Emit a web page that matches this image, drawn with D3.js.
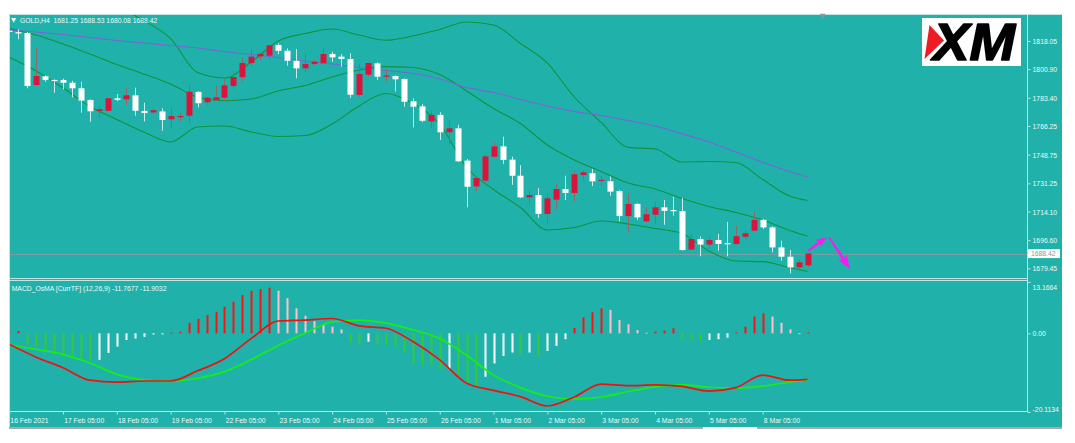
<!DOCTYPE html>
<html>
<head>
<meta charset="utf-8">
<script src="https://cdn.jsdelivr.net/npm/d3@7"></script>
<style>
  body { margin: 0; background: #fff; }
  svg { display: block; }
  text { font-family: "Liberation Sans", Arial, sans-serif; }
</style>
</head>
<body>
<div id="chart"></div>
<script>
// GOLD H4 candles, 16 Feb 2021 05:00 .. 9 Mar 2021
const opens = [1824.3, 1823.4, 1823.0, 1791.2, 1796.5, 1794.3, 1794.3, 1792.6, 1789.2, 1782.1,
  1775.4, 1775.5, 1783.1, 1782.5, 1784.9, 1775.4, 1774.5, 1775.1, 1770.3, 1771.9,
  1772.5, 1787.0, 1780.7, 1782.1, 1783.5, 1790.6, 1796.0, 1804.6, 1808.7, 1809.1,
  1815.6, 1812.1, 1806.0, 1801.4, 1804.0, 1804.5, 1810.1, 1808.5, 1807.1, 1785.1,
  1797.5, 1804.4, 1796.5, 1796.7, 1794.9, 1781.3, 1778.2, 1769.0, 1773.0, 1762.4,
  1764.8, 1745.1, 1729.4, 1732.9, 1747.5, 1753.8, 1745.7, 1735.9, 1722.7, 1724.1,
  1712.6, 1721.3, 1727.8, 1725.4, 1736.3, 1737.4, 1733.1, 1732.5, 1726.6, 1711.3,
  1718.7, 1708.1, 1712.1, 1716.6, 1715.0, 1714.4, 1690.9, 1697.3, 1693.9, 1696.7,
  1694.8, 1694.3, 1698.7, 1702.4, 1709.0, 1704.4, 1692.2, 1686.5, 1680.0, 1681.25];
const highs = [1825.5, 1825.2, 1823.5, 1814.2, 1797.0, 1794.6, 1795.1, 1793.8, 1793.2, 1782.5,
  1778.4, 1783.4, 1785.7, 1789.8, 1789.6, 1780.4, 1776.7, 1777.0, 1777.4, 1774.3,
  1791.8, 1787.5, 1784.0, 1791.2, 1794.9, 1799.6, 1808.1, 1813.2, 1810.7, 1815.7,
  1816.6, 1813.6, 1813.2, 1810.5, 1806.5, 1814.2, 1811.5, 1810.1, 1810.5, 1804.0,
  1805.0, 1805.0, 1801.0, 1797.0, 1795.2, 1783.1, 1779.6, 1775.6, 1774.6, 1769.9,
  1767.0, 1746.1, 1735.0, 1749.2, 1756.3, 1759.7, 1747.5, 1742.4, 1726.8, 1728.4,
  1724.8, 1730.9, 1735.9, 1739.0, 1739.4, 1740.0, 1735.7, 1735.5, 1727.0, 1725.2,
  1719.1, 1716.6, 1719.7, 1721.1, 1723.1, 1722.3, 1700.4, 1698.9, 1699.1, 1700.4,
  1707.7, 1705.2, 1702.4, 1714.2, 1709.5, 1704.9, 1696.3, 1690.6, 1684.7, 1688.53];
const lows = [1822.0, 1819.1, 1789.2, 1790.6, 1793.2, 1786.5, 1788.6, 1783.7, 1774.3, 1768.8,
  1771.5, 1775.2, 1781.4, 1779.0, 1772.5, 1769.0, 1774.0, 1763.4, 1765.2, 1768.8,
  1767.9, 1777.6, 1779.0, 1781.5, 1781.0, 1788.8, 1793.2, 1802.4, 1806.0, 1806.3,
  1810.1, 1803.0, 1795.3, 1799.0, 1803.3, 1804.0, 1805.4, 1802.4, 1783.3, 1783.7,
  1796.3, 1794.3, 1793.2, 1787.3, 1778.0, 1765.4, 1768.5, 1765.0, 1757.7, 1754.9,
  1744.5, 1716.6, 1726.4, 1731.0, 1747.0, 1743.0, 1730.4, 1722.3, 1719.0, 1710.1,
  1706.9, 1715.2, 1721.0, 1720.3, 1732.9, 1729.6, 1729.8, 1723.7, 1708.1, 1701.4,
  1709.0, 1707.5, 1706.5, 1706.0, 1711.5, 1690.2, 1690.7, 1686.8, 1691.2, 1690.2,
  1686.8, 1693.9, 1696.9, 1701.6, 1703.4, 1689.2, 1684.1, 1676.4, 1679.5, 1680.08];
const closes = [1823.8, 1822.7, 1790.6, 1796.7, 1794.3, 1794.0, 1792.6, 1789.2, 1781.7, 1775.2,
  1776.4, 1783.1, 1782.2, 1784.9, 1775.5, 1774.1, 1775.9, 1769.9, 1772.3, 1772.3,
  1787.1, 1780.1, 1783.5, 1783.7, 1791.0, 1796.1, 1804.6, 1808.5, 1810.2, 1815.4,
  1812.1, 1806.0, 1801.4, 1804.0, 1805.4, 1810.1, 1808.1, 1807.1, 1785.3, 1797.9,
  1804.6, 1796.3, 1797.0, 1794.7, 1781.0, 1778.0, 1769.4, 1773.0, 1762.4, 1764.8,
  1744.7, 1729.2, 1734.5, 1747.7, 1753.8, 1745.5, 1735.9, 1722.7, 1724.1, 1712.6,
  1722.1, 1727.8, 1725.4, 1736.8, 1738.0, 1732.5, 1733.4, 1726.2, 1711.3, 1718.7,
  1710.5, 1712.4, 1716.6, 1714.5, 1714.6, 1690.6, 1697.3, 1693.9, 1696.7, 1694.3,
  1694.3, 1699.0, 1700.8, 1709.0, 1704.4, 1692.2, 1686.5, 1680.0, 1683.1, 1688.42];

// indicator lines, read every 3rd bar
const lineIdx = [0, 3, 6, 9, 12, 15, 18, 21, 24, 27, 30, 33, 36, 39, 42, 45, 48, 51, 54, 57,
  60, 63, 66, 69, 72, 75, 78, 81, 84, 87, 89];
const bbUpper = [1845.5, 1844.9, 1843.7, 1841.2, 1838.3, 1830.5, 1819.5, 1798.8, 1795.5, 1805.2,
  1818.1, 1822.6, 1825.4, 1821.7, 1818.5, 1821.1, 1825.1, 1829.6, 1827.8, 1816.5,
  1804.6, 1783.9, 1768.4, 1753.2, 1752.2, 1744.3, 1744.6, 1744.0, 1733.6, 1723.5, 1720.8];
const bbMiddle = [1825.7, 1821.7, 1816.2, 1810.1, 1803.7, 1797.9, 1791.8, 1783.9, 1781.6, 1782.7,
  1787.6, 1790.9, 1796.1, 1800.4, 1802.4, 1801.9, 1797.6, 1787.6, 1776.9, 1767.7,
  1754.6, 1745.5, 1738.5, 1731.5, 1727.8, 1722.0, 1717.1, 1713.5, 1708.9, 1702.5, 1699.1];
const bbLower = [1808.1, 1799.8, 1789.4, 1778.1, 1770.2, 1762.6, 1756.5, 1765.6, 1766.2, 1762.6,
  1759.8, 1760.4, 1767.4, 1778.4, 1786.0, 1779.9, 1767.4, 1740.9, 1727.5, 1716.5,
  1702.8, 1704.3, 1708.3, 1706.5, 1703.7, 1700.7, 1690.0, 1683.9, 1683.5, 1679.9, 1677.5];
const maSlow = [1824.8, 1823.5, 1822.0, 1820.2, 1818.4, 1816.8, 1815.3, 1813.8, 1811.6, 1809.8,
  1808.0, 1805.9, 1804.0, 1801.9, 1800.1, 1798.2, 1794.9, 1789.7, 1786.6, 1782.4,
  1778.4, 1775.1, 1772.6, 1769.6, 1766.2, 1761.6, 1756.5, 1750.4, 1744.0, 1738.5, 1735.1];

// MACD_OsMA pane
const macdLine = [-2.8, -6.1, -8.8, -12.0, -12.5, -12.2, -12.2, -9.6, -6.5, -1.3,
  3.15, 3.4, 3.8, 1.9, 1.3, -2.1, -6.8, -12.8, -14.6, -16.2,
  -18.6, -16.3, -13.0, -13.4, -13.2, -13.6, -14.8, -13.9, -10.7, -12.0, -11.77];
const signalLine = [-3.0, -4.1, -5.4, -7.6, -10.5, -11.9, -12.3, -11.5, -9.8, -6.7,
  -3.1, 0.1, 2.9, 3.4, 2.6, 0.9, -1.3, -5.6, -10.7, -13.9,
  -16.1, -16.8, -16.3, -14.9, -13.7, -13.2, -13.8, -14.0, -13.5, -12.5, -11.9];
const osma = [0.3, 0.6, -2.9, -3.4, -4.4, -5.5, -6.0, -6.4, -6.6, -6.9,
  -6.8, -5.0, -3.4, -1.7, -1.3, -0.9, -0.3, -0.15, 0.2, 0.4,
  2.7, 3.7, 4.7, 5.5, 6.8, 8.1, 9.8, 10.9, 11.3, 11.7,
  10.9, 9.0, 6.4, 4.5, 3.15, 2.1, 1.7, 1.0, -2.4, -2.85,
  -2.15, -2.85, -3.0, -3.4, -4.9, -7.7, -8.1, -8.3, -9.2, -9.05,
  -10.5, -12.8, -13.7, -11.1, -7.7, -5.8, -4.9, -5.4, -4.9, -5.7,
  -4.5, -3.2, -1.5, 1.4, 4.1, 5.4, 6.4, 6.0, 3.4, 2.3,
  0.85, 0.17, 0.42, 0.68, 1.3, -1.3, -1.7, -2.1, -1.7, -1.5,
  -1.1, 0.25, 1.7, 4.3, 5.1, 4.3, 2.7, 1.0, 0.05, 0.25];
// r = up above zero, p = down above zero, g = down below zero, w = up below zero
const osmaKind = ["rr", "gggggggg", "wwwwwwww", "rrrrrrrrrrrr", "pppppppp", "gg", "w", "gggggggg",
  "w", "ggg", "wwww", "g", "w", "g", "www", "rrrr", "ppppp", "rrr", "ggg", "www", "rrrr",
  "pppp", "r"].join("").split("");

const priceTicks = [1818.05, 1800.90, 1783.40, 1766.25, 1748.75, 1731.25, 1714.10, 1696.60, 1679.45];
const macdTicks = [13.1664, 0, -20.1134];
const dateIdx = [0, 6, 12, 18, 24, 30, 36, 42, 48, 54, 60, 66, 72, 78, 84];
const dateLabels = ["16 Feb 2021", "17 Feb 05:00", "18 Feb 05:00", "19 Feb 05:00", "22 Feb 05:00",
  "23 Feb 05:00", "24 Feb 05:00", "25 Feb 05:00", "26 Feb 05:00", "1 Mar 05:00", "2 Mar 05:00",
  "3 Mar 05:00", "4 Mar 05:00", "5 Mar 05:00", "8 Mar 05:00"];

// hand-drawn forecast arrows (bar, price)
const arrowUp = [[89.05, 1690.0], [91.15, 1698.4]];
const arrowDown = [[91.4, 1698.4], [93.75, 1679.0]];

const bg = "#20b2aa";
const fg = "#eef8f7";
const frameColor = "#bfe6e3";
const plotRight = 1027;
const squeeze = "scale(0.85,1)"; // terminal font is narrower than Liberation Sans

const svg = d3.select("#chart").append("svg")
  .attr("width", 1075)
  .attr("height", 443);

// background + frame
svg.append("rect").attr("x", 9).attr("y", 14).attr("width", 1053).attr("height", 413).attr("fill", bg);
svg.append("path")
  .attr("d", `M9.5,427 V14.5 H1062 M${plotRight + 0.5},14.5 V412 M9.5,411.5 H${plotRight + 0.5}` +
    ` M9.5,278.5 H${plotRight} M9.5,280.5 H${plotRight}`)
  .attr("stroke", frameColor)
  .attr("fill", "none");
svg.append("rect").attr("x", 9).attr("y", 427).attr("width", 1053).attr("height", 2).attr("fill", "#a9a9a9");
svg.append("rect").attr("x", 703).attr("y", 427).attr("width", 54).attr("height", 2).attr("fill", "#fff");

const defs = svg.append("defs");
defs.append("clipPath").attr("id", "clipMain")
  .append("rect").attr("x", 10).attr("y", 15).attr("width", plotRight - 10).attr("height", 263);
defs.append("clipPath").attr("id", "clipMacd")
  .append("rect").attr("x", 10).attr("y", 281).attr("width", plotRight - 10).attr("height", 130);

const x = d3.scaleLinear().domain([0, 89]).range([9.2, 807.5]);
const yPrice = d3.scaleLinear().domain([1679.45, 1818.05]).range([268.3, 41]);
const yMacd = d3.scaleLinear().domain([-20.1134, 13.1664]).range([411.9, 281.9]);

const main = svg.append("g").attr("clip-path", "url(#clipMain)");
const macd = svg.append("g").attr("clip-path", "url(#clipMacd)");

// price line at last close
const last = closes[closes.length - 1];
main.append("line")
  .attr("x1", 9).attr("x2", plotRight)
  .attr("y1", Math.round(yPrice(last)) + 0.5).attr("y2", Math.round(yPrice(last)) + 0.5)
  .attr("stroke", "#7a9ca2");

// bollinger bands + slow MA
const priceLine = d3.line()
  .x(function (d) { return x(d[0]); })
  .y(function (d) { return yPrice(d[1]); })
  .curve(d3.curveMonotoneX);
[bbUpper, bbMiddle, bbLower].forEach(function (band) {
  main.append("path")
    .attr("d", priceLine(lineIdx.map(function (b, k) { return [b, band[k]]; })))
    .attr("fill", "none")
    .attr("stroke", "#10933c")
    .attr("stroke-width", 1.1);
});
main.append("path")
  .attr("d", priceLine(lineIdx.map(function (b, k) { return [b, maSlow[k]]; })))
  .attr("fill", "none")
  .attr("stroke", "#7b62d8")
  .attr("stroke-width", 1.1);

// candles
const candles = opens.map(function (o, i) {
  return { i: i, o: o, h: highs[i], l: lows[i], c: closes[i] };
});
const candle = main.selectAll(".candle").data(candles).enter().append("g").attr("class", "candle");
candle.append("rect")
  .attr("x", function (d) { return Math.round(x(d.i)); })
  .attr("width", 1)
  .attr("y", function (d) { return yPrice(d.h); })
  .attr("height", function (d) { return Math.max(1, yPrice(d.l) - yPrice(d.h)); })
  .attr("fill", function (d) { return d.c >= d.o ? "#8c6b6d" : "#c9ecea"; });
candle.append("rect")
  .attr("x", function (d) { return Math.round(x(d.i)) - 2.5; })
  .attr("width", 6)
  .attr("y", function (d) { return yPrice(Math.max(d.o, d.c)); })
  .attr("height", function (d) { return Math.max(1.2, Math.abs(yPrice(d.o) - yPrice(d.c))); })
  .attr("fill", function (d) { return d.c >= d.o ? "#dc143c" : "#ffffff"; });

// forecast arrows
function drawArrow(p0, p1, headL, headW) {
  const x0 = x(p0[0]), y0 = yPrice(p0[1]), x1 = x(p1[0]), y1 = yPrice(p1[1]);
  const len = Math.hypot(x1 - x0, y1 - y0);
  const ang = Math.atan2(y1 - y0, x1 - x0) * 180 / Math.PI;
  const pts = [[0, -0.8], [len - headL, -1.6], [len - headL - 2, -headW], [len, 0],
    [len - headL - 2, headW], [len - headL, 1.6], [0, 0.8]];
  main.append("polygon")
    .attr("points", pts.map(function (p) { return p.join(","); }).join(" "))
    .attr("transform", `translate(${x0},${y0}) rotate(${ang})`)
    .attr("fill", "#f020f0");
}
drawArrow(arrowUp[0], arrowUp[1], 9, 4.5);
drawArrow(arrowDown[0], arrowDown[1], 12, 5);

// MACD histogram
const kindColor = { r: "#ff1010", p: "#ffc0cb", g: "#34c934", w: "#ffffff" };
macd.selectAll(".hist").data(osma).enter().append("rect")
  .attr("class", "hist")
  .attr("x", function (d, i) { return Math.round(x(i)) - 0.5; })
  .attr("width", 2)
  .attr("y", function (d) { return Math.min(yMacd(0), yMacd(d)); })
  .attr("height", function (d) { return Math.max(1, Math.abs(yMacd(d) - yMacd(0))); })
  .attr("fill", function (d, i) { return kindColor[osmaKind[i]]; });

const macdPath = d3.line()
  .x(function (d) { return x(d[0]); })
  .y(function (d) { return yMacd(d[1]); })
  .curve(d3.curveMonotoneX);
macd.append("path")
  .attr("d", macdPath(lineIdx.map(function (b, k) { return [b, signalLine[k]]; })))
  .attr("fill", "none").attr("stroke", "#16ee16").attr("stroke-width", 1.7);
macd.append("path")
  .attr("d", macdPath(lineIdx.map(function (b, k) { return [b, macdLine[k]]; })))
  .attr("fill", "none").attr("stroke", "#f01010").attr("stroke-width", 1.7);

// axis-y price
const yAxis = svg.append("g")
  .attr("transform", `translate(${plotRight + 0.5},0)`)
  .call(d3.axisRight(yPrice).tickValues(priceTicks).tickSize(3).tickPadding(3).tickFormat(d3.format(".2f")));
// axis-y macd
const mAxis = svg.append("g")
  .attr("transform", `translate(${plotRight + 0.5},0)`)
  .call(d3.axisRight(yMacd).tickValues(macdTicks).tickSize(3).tickPadding(3)
    .tickFormat(function (d) { return d === 0 ? "0.00" : d.toFixed(4); }));
mAxis.selectAll(".tick text").attr("dy", function (d, k) { return k === 0 ? "0.9em" : k === 2 ? "-0.05em" : "0.32em"; });
// axis-x
const xAxis = svg.append("g")
  .attr("transform", "translate(0,411.5)")
  .call(d3.axisBottom(x).tickValues(dateIdx).tickSize(3).tickPadding(3)
    .tickFormat(function (d, k) { return dateLabels[k]; }));
xAxis.selectAll(".tick text").attr("text-anchor", "start").attr("dx", "0.1em");

[yAxis, mAxis, xAxis].forEach(function (ax) {
  ax.select(".domain").remove();
  ax.selectAll(".tick line").attr("stroke", frameColor);
  ax.selectAll(".tick text")
    .attr("fill", fg)
    .attr("transform", squeeze)
    .style("font-size", "8px");
});

// current price label
svg.append("rect")
  .attr("x", plotRight + 1).attr("y", yPrice(last) - 4.5)
  .attr("width", 32).attr("height", 9)
  .attr("fill", "#ffffff");
svg.append("text")
  .attr("transform", `translate(${plotRight + 4},${yPrice(last)}) ${squeeze}`)
  .attr("dy", "0.35em")
  .attr("fill", "#7a9ca2")
  .style("font-size", "8px")
  .text(d3.format(".2f")(last));

// titles
svg.append("path")
  .attr("d", d3.symbol(d3.symbolTriangle, 12)())
  .attr("transform", "translate(13.7,19.6) rotate(180)")
  .attr("fill", fg);
svg.append("text")
  .attr("transform", `translate(20,22.7) ${squeeze}`)
  .attr("fill", fg)
  .style("font-size", "8px")
  .style("white-space", "pre")
  .text("GOLD,H4  1681.25 1688.53 1680.08 1688.42");
svg.append("text")
  .attr("transform", `translate(11.7,290.6) ${squeeze}`)
  .attr("fill", fg)
  .style("font-size", "8px")
  .text("MACD_OsMA [CurrTF] (12,26,9) -11.7677 -11.9032");

// chart shift marker
svg.append("path")
  .attr("d", d3.symbol(d3.symbolTriangle, 14)())
  .attr("transform", `translate(${x(90.7)},15.5) rotate(180)`)
  .attr("fill", "#8f8fae");

// XM logo
const logo = svg.append("g");
logo.append("rect").attr("x", 922).attr("y", 18).attr("width", 99).attr("height", 48).attr("fill", "#ffffff");
logo.append("path").attr("d", "M929.5,25 L944,40.5 L924.5,59 Z").attr("fill", "#ed1c24");
logo.append("text")
  .attr("x", 933).attr("y", 60)
  .attr("textLength", 82)
  .attr("lengthAdjust", "spacingAndGlyphs")
  .style("font-family", "'Liberation Sans', Arial, sans-serif")
  .style("font-weight", "bold")
  .style("font-style", "italic")
  .style("font-size", "52px")
  .attr("fill", "#000")
  .attr("stroke", "#000")
  .attr("stroke-width", 1.6)
  .attr("stroke-linejoin", "round")
  .text("XM");
</script>
</body>
</html>
